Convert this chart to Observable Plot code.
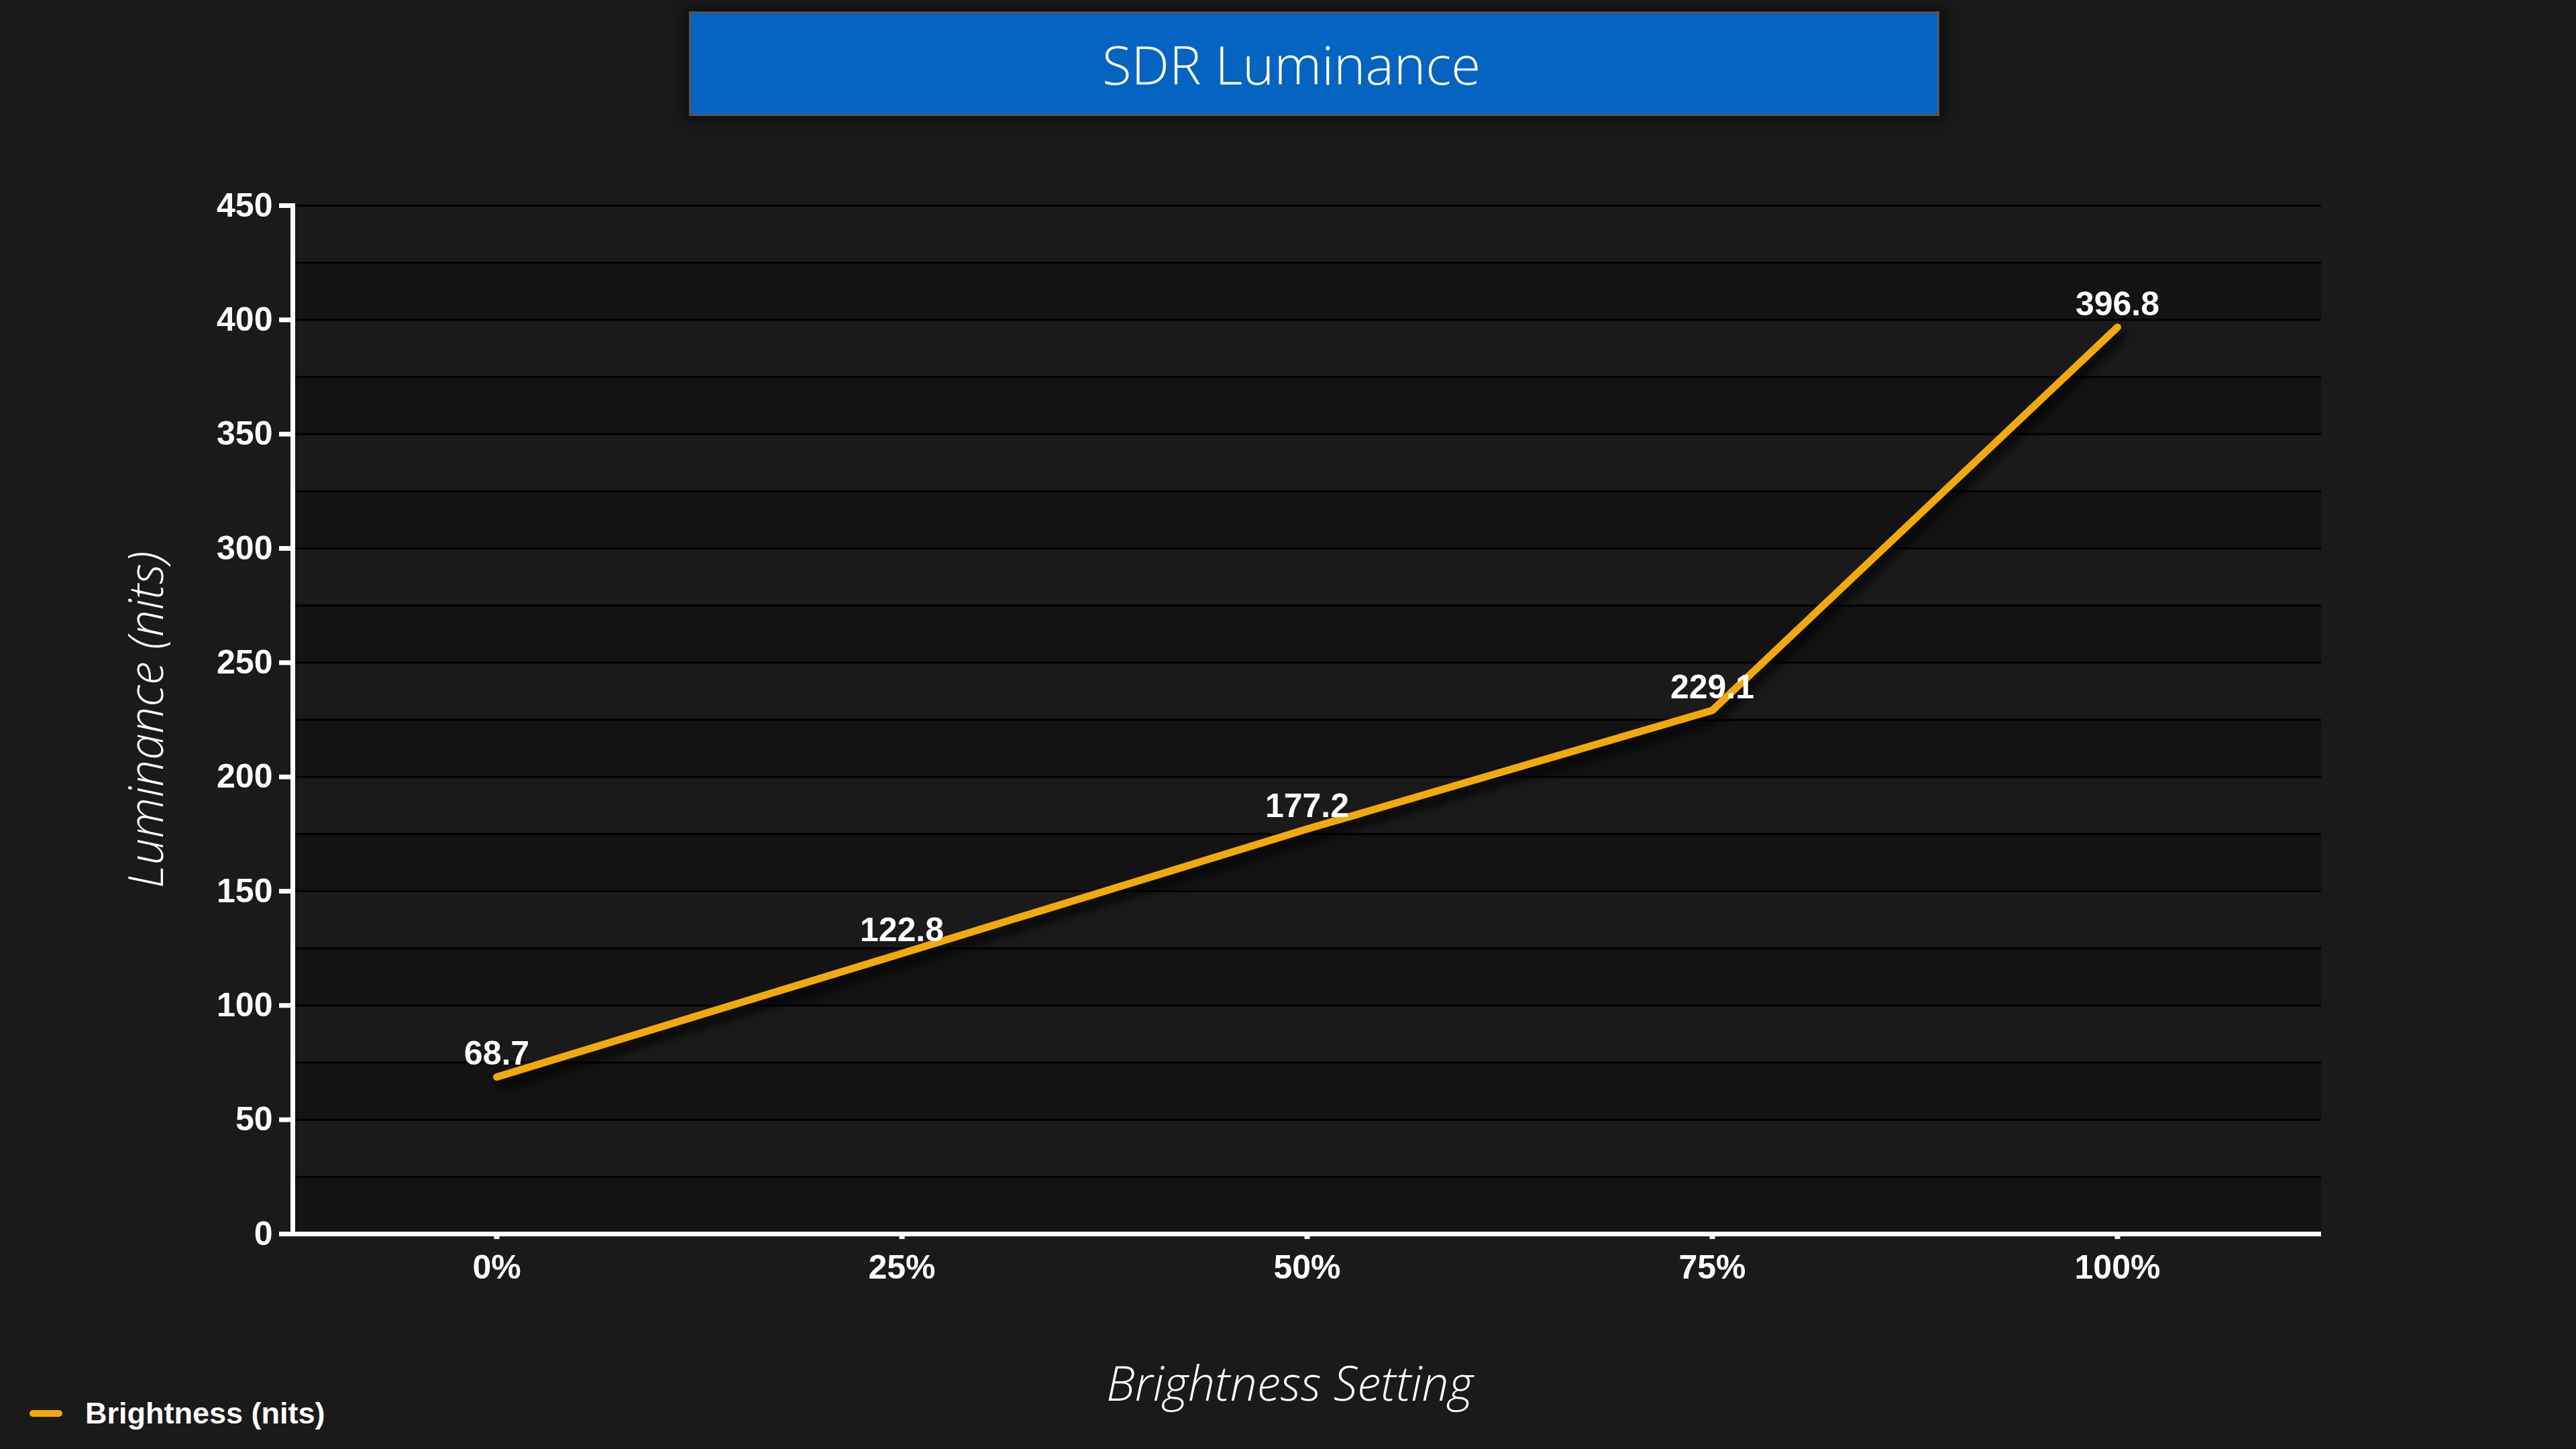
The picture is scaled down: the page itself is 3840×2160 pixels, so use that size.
<!DOCTYPE html>
<html>
<head>
<meta charset="utf-8">
<script src="https://cdn.jsdelivr.net/npm/d3@7"></script>
<script src="https://cdn.jsdelivr.net/npm/@observablehq/plot@0.6"></script>
<style>
  html, body { margin: 0; padding: 0; background: #1a1a1a; }
  #wrap { position: relative; width: 3840px; height: 2160px; overflow: hidden; background: #1a1a1a; }
  #chart { position: absolute; left: 0; top: 0; }
  #title {
    position: absolute; left: 1027px; top: 17px; width: 1858px; height: 150px;
    background: #0563C1; border: 3px solid #555;
    box-shadow: 0 0 20px 8px rgba(0,0,0,0.45);
  }
  #title span {
    position: absolute; left: 895px; top: 0; transform: translateX(-50%);
    white-space: nowrap; color: #fff; font-family: "Open Sans", "Noto Sans", sans-serif;
    font-weight: 300; font-size: 80px; line-height: 150px;
  }
  #legend {
    position: absolute; left: 44px; top: 2082px; height: 50px;
    display: flex; align-items: center; gap: 34px;
    color: #fff; font-family: "Liberation Sans", Arial, sans-serif; font-weight: bold; font-size: 45px;
  }
  #legend .swatch { width: 49px; height: 10px; border-radius: 5px; background: #F2AA0A; }
</style>
</head>
<body>
<div id="wrap">
  <div id="chart"></div>
  <div id="title"><span>SDR Luminance</span></div>
  <div id="legend"><div class="swatch"></div><div>Brightness (nits)</div></div>
</div>
<script>
// ---- data ----
const settings = ["0%", "25%", "50%", "75%", "100%"];
const luminance = [68.7, 122.8, 177.2, 229.1, 396.8];
const yTicks = [0, 50, 100, 150, 200, 250, 300, 350, 400, 450];
const gridLines = [25, 50, 75, 100, 125, 150, 175, 200, 225, 250, 275, 300, 325, 350, 375, 400, 425, 450];
const darkBandStarts = [0, 50, 100, 150, 200, 250, 300, 350, 400];
const bandSize = 25;
const xTitle = "Brightness Setting";
const yTitle = "Luminance (nits)";

const data = settings.map((s, i) => ({ setting: s, value: luminance[i] }));

const titleFont = { fill: "#fff", fontSize: 71, fontStyle: "italic", fontWeight: 300, fontFamily: "'Open Sans', 'Noto Sans', sans-serif" };

const chart = Plot.plot({
  width: 3840,
  height: 2160,
  marginLeft: 436,
  marginRight: 380,
  marginTop: 306,
  marginBottom: 321,
  style: { background: "transparent", color: "#fff", fontFamily: "'Liberation Sans', Arial, sans-serif" },
  x: { type: "point", domain: settings, padding: 0.5, label: null },
  y: { domain: [0, 450], label: null },
  marks: [
    Plot.rect(darkBandStarts, { y1: d => d, y2: d => d + bandSize, fill: "#131313" }),
    Plot.ruleY(gridLines, { stroke: "#000", strokeWidth: 3 }),
    Plot.frame({ anchor: "left", stroke: "#fff", strokeWidth: 7 }),
    Plot.ruleY([0], { stroke: "#fff", strokeWidth: 7 }),
    Plot.axisY({ ticks: yTicks, tickSize: 20, tickPadding: 10, fontSize: 50, fontWeight: "bold", strokeWidth: 7, label: null }),
    Plot.axisX({ tickSize: 8, tickPadding: 23, fontSize: 50, fontWeight: "bold", strokeWidth: 8, label: null }),
    Plot.line(data, { x: "setting", y: "value", stroke: "#F2AA0A", strokeWidth: 11, strokeLinecap: "round", strokeLinejoin: "miter" }),
    Plot.text(data, { x: "setting", y: "value", text: d => d.value.toFixed(1), dy: -18, lineAnchor: "bottom", fill: "#fff", fontSize: 50, fontWeight: "bold" }),
    Plot.text([xTitle], { text: d => d, frameAnchor: "bottom", dx: -26, dy: 226, textAnchor: "middle", lineAnchor: "middle", ...titleFont }),
    Plot.text([yTitle], { text: d => d, frameAnchor: "left", dx: -216, rotate: -90, textAnchor: "middle", lineAnchor: "middle", ...titleFont })
  ]
});

chart.querySelectorAll('g[aria-label="line"]').forEach(g => {
  g.style.filter = "drop-shadow(7px 12px 7px rgba(0,0,0,0.9))";
});

document.getElementById("chart").appendChild(chart);
</script>
</body>
</html>
